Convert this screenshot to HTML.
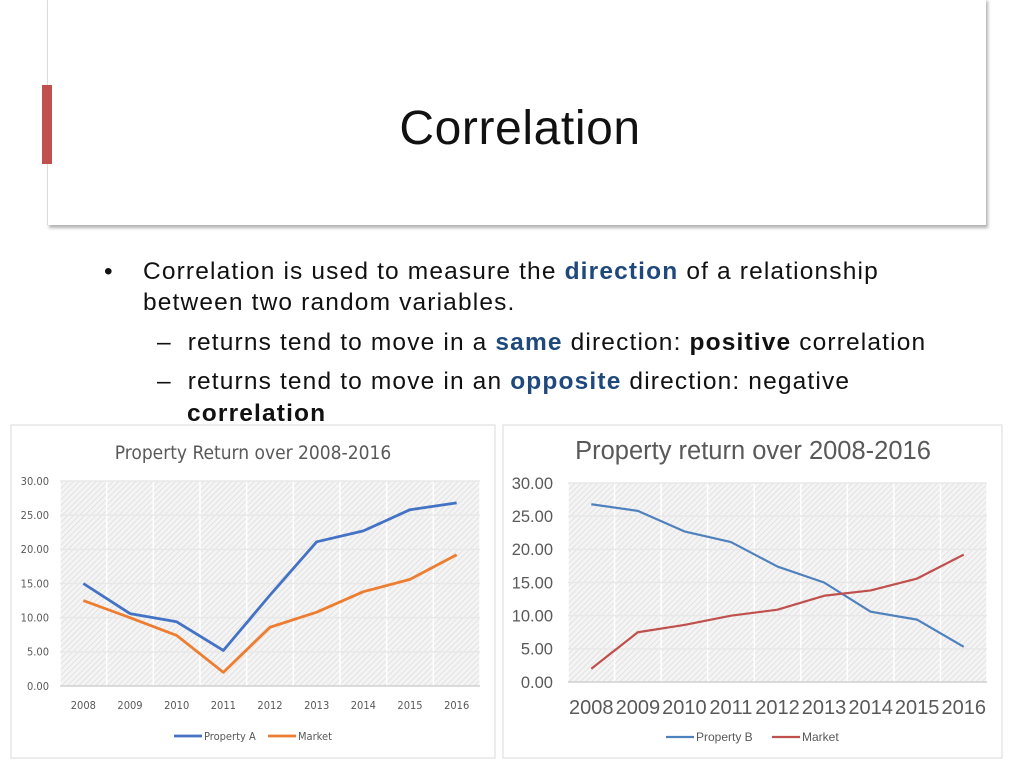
<!DOCTYPE html>
<html><head><meta charset="utf-8"><style>
body{margin:0;width:1024px;height:768px;background:#fff;position:relative;overflow:hidden;font-family:"Liberation Sans",sans-serif}
#titlebox{position:absolute;left:47px;top:-2px;width:938px;height:227px;background:#fff;border-left:1px solid #ddd;box-shadow:2px 3px 3px rgba(0,0,0,0.3)}
#redbar{position:absolute;left:42px;top:85px;width:10px;height:79px;background:#c0504d}
#title{position:absolute;left:0;width:1040px;top:101px;text-align:center;font-size:48px;letter-spacing:0.6px;color:#111}
.t{position:absolute;font-size:24.5px;color:#111;white-space:nowrap;letter-spacing:1.15px}
.b{color:#1f497d;font-weight:bold}
svg{position:absolute;left:0;top:0}
</style></head><body>
<div id="titlebox"></div>
<div id="redbar"></div>
<div id="title">Correlation</div>
<div class="t" style="left:104px;top:258px">•</div>
<div class="t" style="left:143px;top:258px">Correlation is used to measure the <span class="b">direction</span> of a relationship</div>
<div class="t" style="left:143px;top:289px">between two random variables.</div>
<div class="t" style="left:157px;top:329px">–&nbsp; returns tend to move in a <span class="b">same</span> direction: <b>positive</b> correlation</div>
<div class="t" style="left:157px;top:368px">–&nbsp; returns tend to move in an <span class="b">opposite</span> direction: negative</div>
<div class="t" style="left:187px;top:400px"><b>correlation</b></div>
<svg id="chart" width="1024" height="768">
<defs><pattern id="hatch" width="4" height="4" patternUnits="userSpaceOnUse" patternTransform="rotate(45)"><rect width="4" height="4" fill="#f4f4f4"/><line x1="0" y1="0" x2="0" y2="4" stroke="#dcdcdc" stroke-width="1.5"/></pattern></defs>
</svg>
<script>
const years=["2008","2009","2010","2011","2012","2013","2014","2015","2016"];
const propA=[15.0,10.6,9.4,5.2,13.3,21.1,22.7,25.8,26.8];
const marketA=[12.5,10.0,7.4,2.0,8.6,10.8,13.8,15.6,19.2];
const propB=[26.8,25.8,22.7,21.1,17.4,15.0,10.6,9.4,5.3];
const marketB=[2.0,7.5,8.6,10.0,10.9,13.0,13.8,15.6,19.2];
const yTicks=[0,5,10,15,20,25,30];
const NS="http://www.w3.org/2000/svg";
const svg=document.getElementById('chart');
function mk(t,a,p){const e=document.createElementNS(NS,t);for(const k in a)e.setAttribute(k,a[k]);(p||svg).appendChild(e);return e;}
function chart(c){
  const g=mk('g',{});
  
  
  const fr=mk('rect',{x:c.fx,y:c.fy,width:c.fw,height:c.fh,fill:'#fff',stroke:'#d9d9d9'},g);
  
  
  const tt=mk('text',{x:c.tx,y:c.ty,'text-anchor':'middle','font-size':c.tfs,fill:'#595959','font-family':c.font},g);
  tt.textContent=c.title;
  
  
  const pa=mk('rect',{x:c.x0,y:c.yTop,width:c.x1-c.x0,height:c.yBot-c.yTop,fill:'url(#hatch)'},g);
  
  
  const n=years.length,bw=(c.x1-c.x0)/n;
  const X=i=>c.x0+bw*(i+0.5);
  const Y=v=>c.yBot-(v/30)*(c.yBot-c.yTop);
  for(let i=0;i<=n;i++)mk('line',{x1:c.x0+bw*i,x2:c.x0+bw*i,y1:c.yTop,y2:c.yBot,stroke:'#fff','stroke-width':1.5},g);
  yTicks.forEach(v=>{
    mk('line',{x1:c.x0,x2:c.x1,y1:Y(v),y2:Y(v),stroke:v?'#e8e8e8':'#d0d0d0','stroke-width':1.5},g);
    const t=mk('text',{x:c.x0-c.lpad,y:Y(v)+c.yfs*0.35,'text-anchor':'end','font-size':c.yfs,fill:'#595959','font-family':c.font},g);
    t.textContent=v.toFixed(2);
    
    
  });
  years.forEach((y,i)=>{
    const t=mk('text',{x:X(i),y:c.xly,'text-anchor':'middle','font-size':c.xfs,fill:'#595959','font-family':c.font},g);
    t.textContent=y;
    
    
  });
  c.series.forEach((s,si)=>{
    const p=mk('polyline',{points:s.data.map((v,i)=>X(i)+','+Y(v)).join(' '),fill:'none',stroke:s.color,'stroke-width':c.sw,'stroke-linejoin':'round'},g);
    
    
    const lx=c.legX[si];
    const ll=mk('line',{x1:lx,x2:lx+28,y1:c.legY,y2:c.legY,stroke:s.color,'stroke-width':c.sw},g);
    
    
    const lt=mk('text',{x:lx+30,y:c.legY+4,'font-size':c.lfs,fill:'#595959','font-family':c.font},g);
    lt.textContent=s.label;
    
    
  });
}
chart({name:'chart-property-a',fx:11,fy:425,fw:484,fh:333,title:'Property Return over 2008-2016',tx:253,ty:459,tfs:19,font:'"DejaVu Sans Condensed","Liberation Sans Narrow",sans-serif',
  x0:60,x1:480,yTop:481,yBot:686,lpad:11,yfs:11,xfs:11,xly:709,sw:2.8,lfs:11,legX:[174,268],legY:736,
  series:[{key:'property-a',label:'Property A',data:propA,color:'#4472c4'},{key:'market',label:'Market',data:marketA,color:'#ed7d31'}]});
chart({name:'chart-property-b',fx:503,fy:425,fw:499,fh:333,title:'Property return over 2008-2016',tx:753,ty:459,tfs:25.5,font:'"Liberation Sans",sans-serif',
  x0:568,x1:987,yTop:483,yBot:682,lpad:15,yfs:16.5,xfs:20,xly:714,sw:2.2,lfs:12,legX:[666,772],legY:737,
  series:[{key:'property-b',label:'Property B',data:propB,color:'#4f81bd'},{key:'market',label:'Market',data:marketB,color:'#c0504d'}]});
</script>
</body></html>
